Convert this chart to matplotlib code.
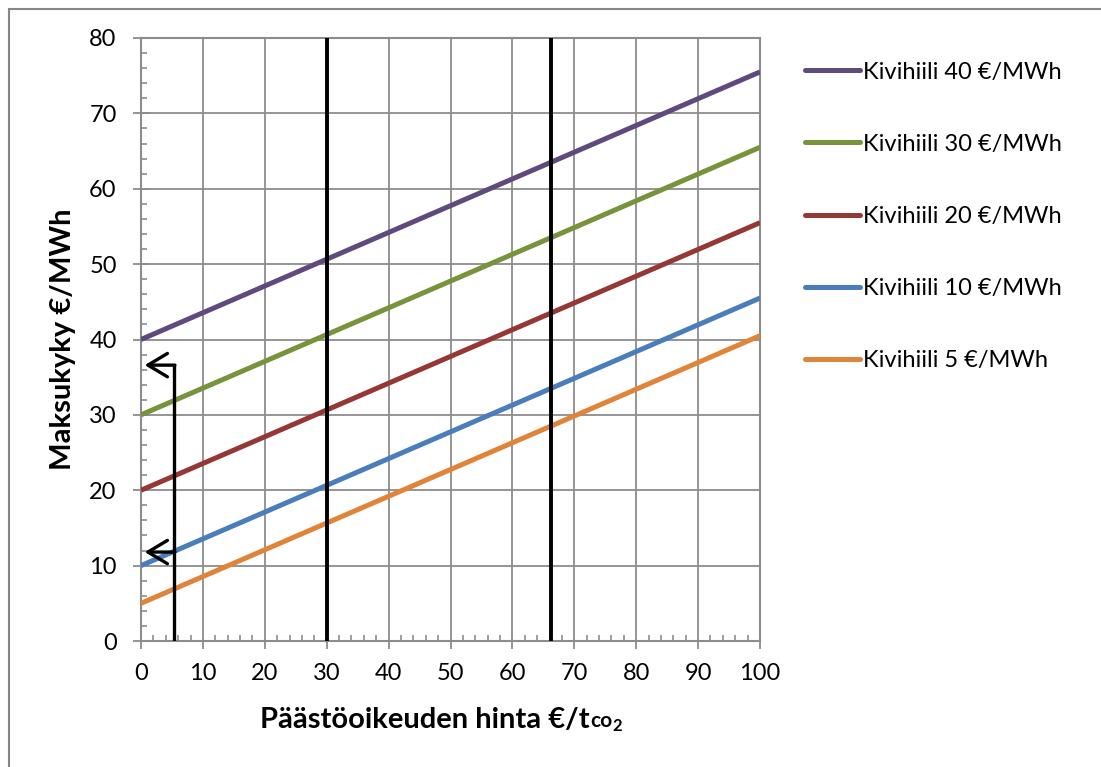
import matplotlib
matplotlib.use("Agg")
import matplotlib.pyplot as plt
from matplotlib.patches import Rectangle
from matplotlib.ticker import MultipleLocator

plt.rcParams['font.family'] = ['Lato', 'DejaVu Sans']

# Emission allowance price range (€/tCO2)
price = [0, 100]

# Payment capacity (€/MWh) at the ends of the price range, per coal price
series_labels = ["Kivihiili 40 €/MWh", "Kivihiili 30 €/MWh", "Kivihiili 20 €/MWh",
                 "Kivihiili 10 €/MWh", "Kivihiili 5 €/MWh"]
series_values = [
    [40, 75.5],
    [30, 65.5],
    [20, 55.5],
    [10, 45.5],
    [5, 40.5],
]
series_colors = ["#5f4a7d", "#77933c", "#953735", "#4a7ebb", "#e0843a"]

# Reference price levels marked with vertical lines
marker_prices = [30, 66.3]

# Guide line with arrows pointing at the y axis
guide_x = 5.3
guide_arrow_y = [36.6, 11.8]

W, H = 1101, 767
fig = plt.figure(figsize=(W / 100, H / 100), dpi=100)
ax = fig.add_axes([141 / W, 1 - 641 / H, (760 - 141) / W, (641 - 38) / H])

grey = "#8c8c8c"

for vals, lab, col in zip(series_values, series_labels, series_colors):
    ax.plot(price, vals, color=col, lw=3.6, label=lab, solid_capstyle="butt", zorder=3)

for xp in marker_prices:
    ax.axvline(xp, color="black", lw=2.8, zorder=4)

ax.plot([guide_x, guide_x], [0, guide_arrow_y[0]], color="black", lw=2.4, zorder=4,
        solid_capstyle="butt")
for ya in guide_arrow_y:
    ax.annotate("", xy=(0.6, ya), xytext=(guide_x + 0.18, ya),
                arrowprops=dict(arrowstyle="->,head_length=0.7,head_width=0.42",
                                lw=2.4, color="black", mutation_scale=20,
                                shrinkA=0, shrinkB=0),
                zorder=5)

ax.set_xlim(0, 100)
ax.set_ylim(0, 80)
ax.xaxis.set_major_locator(MultipleLocator(10))
ax.xaxis.set_minor_locator(MultipleLocator(2))
ax.yaxis.set_major_locator(MultipleLocator(10))
ax.yaxis.set_minor_locator(MultipleLocator(2))

ax.grid(which="major", color=grey, lw=1.3, zorder=1)
for s in ax.spines.values():
    s.set_color(grey)
    s.set_linewidth(1.5)

ax.tick_params(which="major", axis="y", direction="inout", length=11, width=1.3,
               color=grey, labelsize=17, pad=12)
ax.tick_params(which="major", axis="x", direction="out", length=6, width=1.3,
               color=grey, labelsize=17, pad=10)
ax.tick_params(which="minor", direction="in", length=4.3, width=1.2, color=grey)

ax.set_ylabel("Maksukyky €/MWh", fontsize=21, fontweight="bold")
ax.yaxis.label.set_verticalalignment("center")
ax.yaxis.set_label_coords(-0.126, 0.5)

xl = ax.set_xlabel("Päästöoikeuden hinta €/t", fontsize=21, fontweight="bold")
ax.xaxis.label.set_verticalalignment("center")
ax.xaxis.set_label_coords(0.459, -0.131)
co = ax.annotate("co", xy=(1, 0.07), xycoords=xl, fontsize=15, fontweight="bold",
                 ha="left", va="bottom")
ax.annotate("2", xy=(1, -0.12), xycoords=co, fontsize=12, fontweight="bold",
            ha="left", va="bottom")

leg = fig.legend(loc="upper left", bbox_to_anchor=(805 / W, 1 - 61.5 / H),
                 bbox_transform=fig.transFigure, frameon=False,
                 fontsize=17, handlelength=2.33, handletextpad=0.13,
                 labelspacing=2.17, borderaxespad=0, borderpad=0)
for h in leg.get_lines():
    h.set_linewidth(3.6)
    h.set_solid_capstyle("round")

fig.patches.append(Rectangle((9 / W, -0.5), 2.0, 1.5 - 9 / H,
                             transform=fig.transFigure, fill=False,
                             edgecolor="#868686", lw=1.5))

fig.savefig("out.png", dpi=100)
